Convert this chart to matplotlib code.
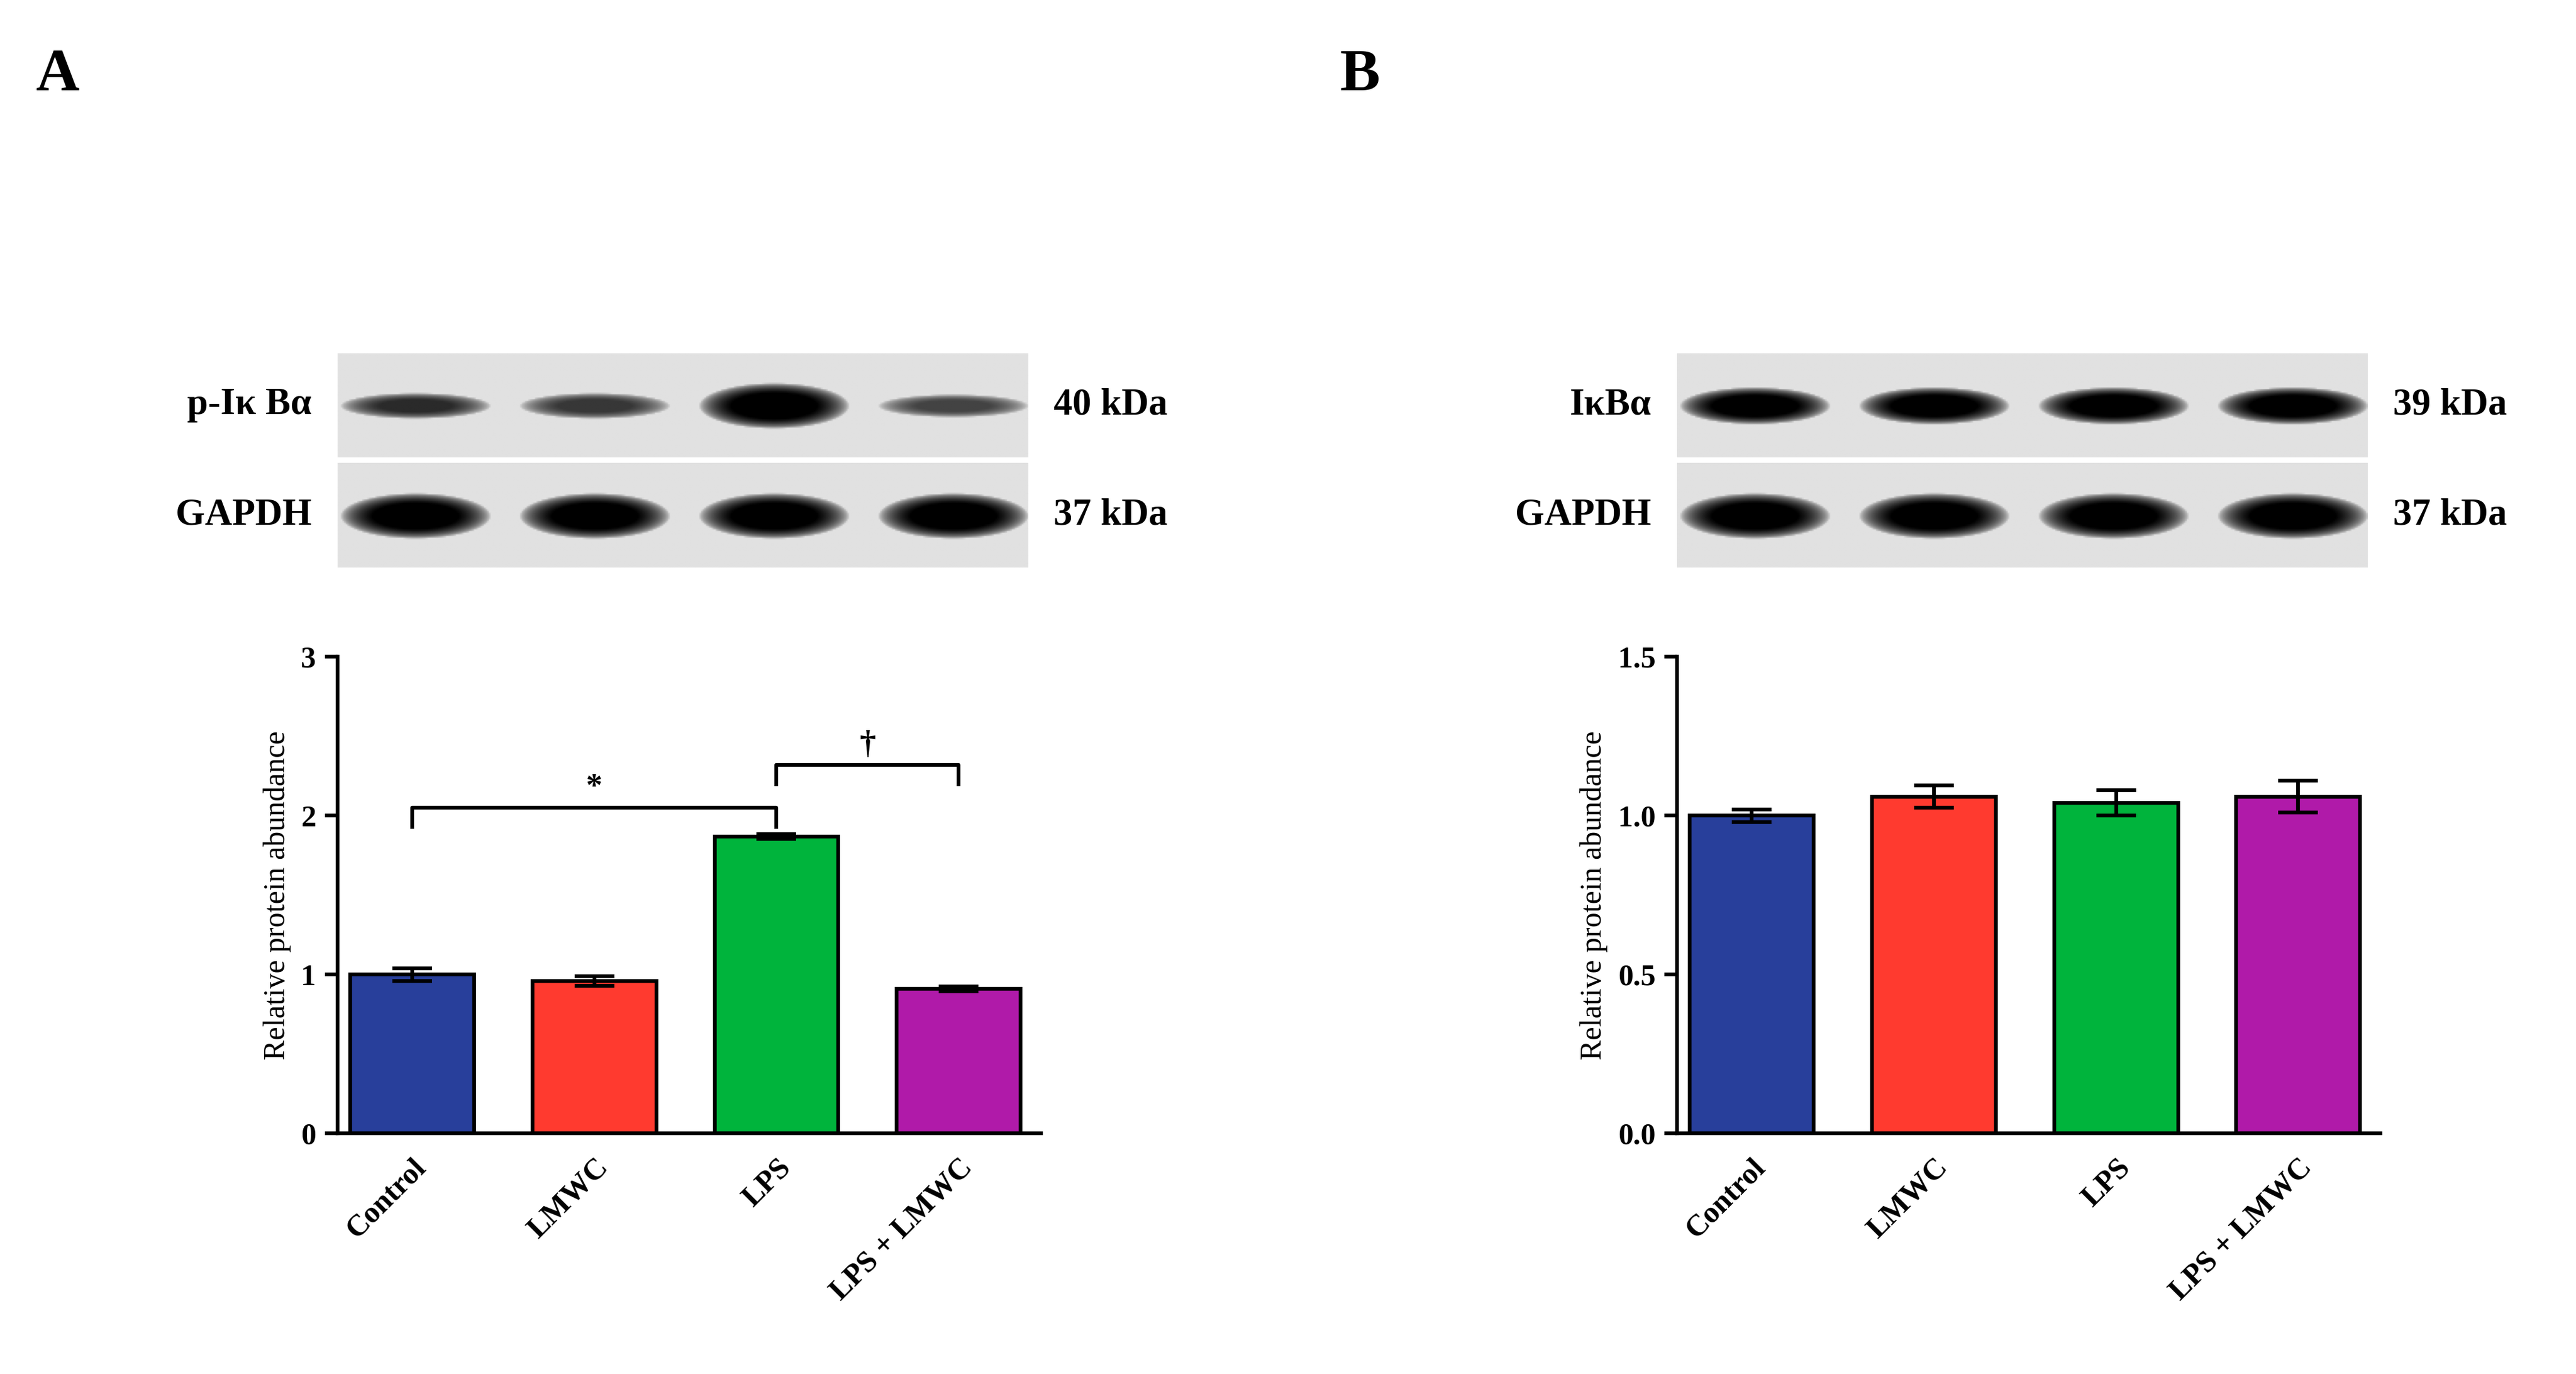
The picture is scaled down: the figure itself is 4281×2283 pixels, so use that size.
import numpy as np
import matplotlib
matplotlib.use("Agg")
import matplotlib.pyplot as plt

plt.rcParams['font.family'] = ['Liberation Serif', 'DejaVu Serif']
plt.rcParams['font.weight'] = 'bold'

groups = ["Control", "LMWC", "LPS", "LPS + LMWC"]
colors = ["#283f9b", "#ff3a2f", "#00b43c", "#b01aa9"]
a_vals = [1.00, 0.96, 1.87, 0.91]
a_err = [0.04, 0.03, 0.015, 0.015]
b_vals = [1.00, 1.06, 1.04, 1.06]
b_err = [0.02, 0.035, 0.04, 0.05]
# band darkness (0..1) and relative thickness for blot rows
a_band_top = [0.75, 0.7, 1.0, 0.65]
a_band_top_h = [0.45, 0.45, 0.8, 0.4]
b_band_top = [1.0, 1.0, 1.0, 1.0]
b_band_top_h = [0.65, 0.65, 0.65, 0.65]
gapdh = [1.0, 1.0, 1.0, 1.0]
gapdh_h = [0.8, 0.8, 0.8, 0.8]

fig = plt.figure(figsize=(4281/300, 2283/300), dpi=300)

def blot(rect, dark, heights):
    ax = fig.add_axes(rect)
    W, H = 420, 63
    xx, yy = np.meshgrid(np.arange(W), np.arange(H))
    img = np.full((H, W), 0.88)
    for i, (d, h) in enumerate(zip(dark, heights)):
        cx = 47 + i * 109
        hw = 40
        hh = 30 * h
        r = ((xx - cx) / hw) ** 2 + ((yy - H / 2) / (hh / 2 + 1e-6)) ** 2
        band = np.clip(1.3 - r, 0, 1) ** 0.6
        img = img - d * band * 0.95
    img = np.clip(img, 0, 1)
    ax.imshow(img, cmap='gray', vmin=0, vmax=1, aspect='auto')
    ax.axis('off')
    return ax

def panel(x0, vals, errs, ylim, yticks, yticklabels, top, toph, lab1, kda1):
    b1 = blot([x0, 0.667, 0.268, 0.076], top, toph)
    b2 = blot([x0, 0.587, 0.268, 0.076], gapdh, gapdh_h)
    fig.text(x0 - 0.01, 0.705, lab1, ha='right', va='center', fontsize=15)
    fig.text(x0 - 0.01, 0.625, "GAPDH", ha='right', va='center', fontsize=15)
    fig.text(x0 + 0.278, 0.705, kda1, ha='left', va='center', fontsize=15)
    fig.text(x0 + 0.278, 0.625, "37 kDa", ha='left', va='center', fontsize=15)
    ax = fig.add_axes([x0, 0.175, 0.273, 0.347])
    x = np.arange(len(groups))
    ax.bar(x, vals, width=0.68, color=colors, edgecolor='black', linewidth=1.5, zorder=2)
    ax.errorbar(x, vals, yerr=errs, fmt='none', ecolor='black', elinewidth=1.5, capsize=8, capthick=1.5, zorder=3)
    ax.set_xlim(-0.41, 3.45)
    ax.set_ylim(*ylim)
    ax.set_yticks(yticks)
    ax.set_yticklabels(yticklabels, fontsize=12)
    ax.set_xticks(x)
    ax.set_xticklabels(groups, rotation=45, ha='right', rotation_mode='anchor', fontsize=12)
    ax.tick_params(axis='x', length=0, pad=8)
    ax.tick_params(axis='y', width=1.5, length=5)
    for s in ['top', 'right']:
        ax.spines[s].set_visible(False)
    for s in ['left', 'bottom']:
        ax.spines[s].set_linewidth(1.5)
    ax.set_ylabel("Relative protein abundance", fontsize=12)
    return ax

axA = panel(0.131, a_vals, a_err, (0, 3), [0, 1, 2, 3], ["0", "1", "2", "3"],
            a_band_top, a_band_top_h, "p-Iκ Bα", "40 kDa")
axB = panel(0.651, b_vals, b_err, (0, 1.5), [0, 0.5, 1.0, 1.5], ["0.0", "0.5", "1.0", "1.5"],
            b_band_top, b_band_top_h, "IκBα", "39 kDa")

def bracket(ax, x1, x2, y, h, txt):
    ax.plot([x1, x1, x2, x2], [y - h, y, y, y - h], color='black', lw=1.5, clip_on=False)
    ax.text((x1 + x2) / 2, y + 0.03, txt, ha='center', va='bottom', fontsize=13)

bracket(axA, 0, 2, 2.05, 0.12, "*")
bracket(axA, 2, 3, 2.32, 0.12, "†")

fig.text(0.014, 0.945, "A", fontsize=24, ha='left', va='center')
fig.text(0.520, 0.945, "B", fontsize=24, ha='left', va='center')

fig.savefig("out.png", dpi=300, facecolor='white')
